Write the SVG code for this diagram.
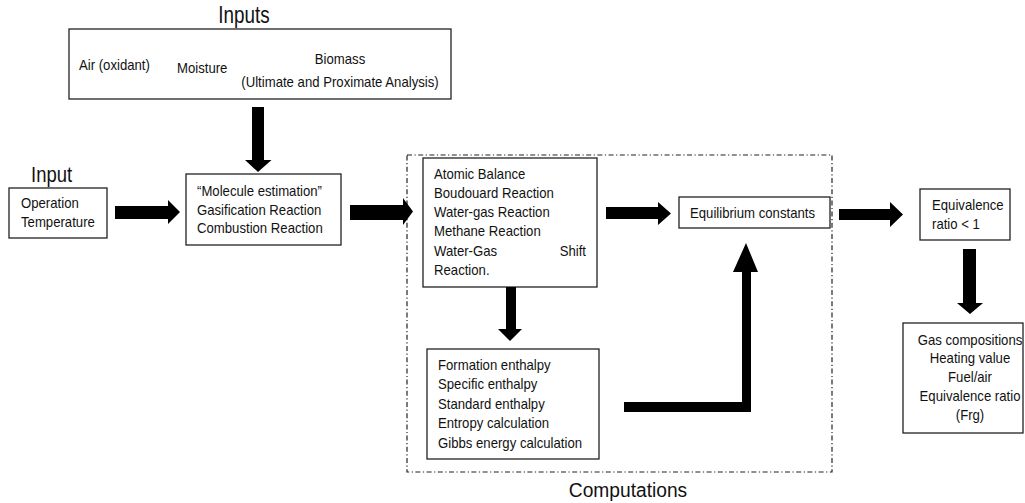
<svg xmlns="http://www.w3.org/2000/svg" width="1025" height="503" viewBox="0 0 1025 503">
<style>
text{font-family:"Liberation Sans",Arial,sans-serif;fill:#111}
.t{font-size:14px}
.box{fill:#fff;stroke:#222;stroke-width:1.3}
.arr{fill:#000}
.c{text-anchor:middle}
.e{text-anchor:end}
</style>
<rect width="1025" height="503" fill="#fff"/>
<g id="computations-frame">
<rect x="407" y="155" width="425" height="317" fill="none" stroke="#222" stroke-width="1.2" stroke-dasharray="5 2.5 1.2 2.5"/>
<text class="c" font-size="20" transform="matrix(.96 0 0 1 628 497)">Computations</text>
</g>
<g id="inputs">
<text class="c" font-size="23" transform="matrix(.82 0 0 1 244 23)">Inputs</text>
<rect class="box" x="69" y="29" width="382" height="70"/>
<text class="t" transform="matrix(.94 0 0 1 79 70)">Air (oxidant)</text>
<text class="t" transform="matrix(.94 0 0 1 177 73)">Moisture</text>
<text class="t c" transform="matrix(.94 0 0 1 340 64)">Biomass</text>
<text class="t c" transform="matrix(.94 0 0 1 340 87)">(Ultimate and Proximate Analysis)</text>
</g>
<g id="operation-temperature">
<text font-size="22" transform="matrix(.84 0 0 1 31 182)">Input</text>
<rect class="box" x="9" y="188" width="98" height="50"/>
<text class="t" transform="matrix(.94 0 0 1 21 208)">Operation</text>
<text class="t" transform="matrix(.94 0 0 1 21 227)">Temperature</text>
</g>
<g id="molecule-estimation">
<rect class="box" x="186" y="174" width="155" height="71"/>
<text class="t" transform="matrix(.94 0 0 1 197 196)">“Molecule estimation”</text>
<text class="t" transform="matrix(.94 0 0 1 197 215)">Gasification Reaction</text>
<text class="t" transform="matrix(.94 0 0 1 197 233)">Combustion Reaction</text>
</g>
<g id="reactions">
<rect class="box" x="423" y="158" width="174" height="129"/>
<text class="t" transform="matrix(.94 0 0 1 434 179)">Atomic Balance</text>
<text class="t" transform="matrix(.94 0 0 1 434 198)">Boudouard Reaction</text>
<text class="t" transform="matrix(.94 0 0 1 434 217)">Water-gas Reaction</text>
<text class="t" transform="matrix(.94 0 0 1 434 236)">Methane Reaction</text>
<text class="t" transform="matrix(.94 0 0 1 434 256)">Water-Gas</text>
<text class="t e" transform="matrix(.94 0 0 1 586 256)">Shift</text>
<text class="t" transform="matrix(.94 0 0 1 434 275)">Reaction.</text>
</g>
<g id="enthalpy">
<rect class="box" x="427" y="349" width="172" height="110"/>
<text class="t" transform="matrix(.94 0 0 1 438 370)">Formation enthalpy</text>
<text class="t" transform="matrix(.94 0 0 1 438 389)">Specific enthalpy</text>
<text class="t" transform="matrix(.94 0 0 1 438 409)">Standard enthalpy</text>
<text class="t" transform="matrix(.94 0 0 1 438 428)">Entropy calculation</text>
<text class="t" transform="matrix(.94 0 0 1 438 448)">Gibbs energy calculation</text>
</g>
<g id="equilibrium-constants">
<rect class="box" x="679" y="197" width="151" height="31"/>
<text class="t" transform="matrix(.94 0 0 1 690 218)">Equilibrium constants</text>
</g>
<g id="equivalence-ratio">
<rect class="box" x="920" y="189" width="90" height="51"/>
<text class="t" transform="matrix(.94 0 0 1 932 210)">Equivalence</text>
<text class="t" transform="matrix(.94 0 0 1 932 229)">ratio &lt; 1</text>
</g>
<g id="outputs">
<rect class="box" x="903" y="323" width="120" height="110"/>
<text class="t c" transform="matrix(.94 0 0 1 970 345)">Gas compositions</text>
<text class="t c" transform="matrix(.94 0 0 1 970 363)">Heating value</text>
<text class="t c" transform="matrix(.94 0 0 1 970 382)">Fuel/air</text>
<text class="t c" transform="matrix(.94 0 0 1 970 401)">Equivalence ratio</text>
<text class="t c" transform="matrix(.94 0 0 1 970 420)">(Frg)</text>
</g>
<g id="connectors" class="arr">
<polygon points="252,107 264,107 264,160 271.5,160 258,172 245,160 252,160"/>
<polygon points="115,206 168,206 168,200 180,212 168,224 168,219 115,219"/>
<polygon points="350,205 403,205 403,198 413,211.5 403,225 403,220 350,220"/>
<polygon points="606,207 658,207 658,202 671,213.5 658,225 658,219 606,219"/>
<polygon points="839,209 890,209 890,202 903,214.5 890,227 890,220 839,220"/>
<polygon points="506,287 516,287 516,329 522,329 510,341 498,329 506,329"/>
<polygon points="624,402 742,402 742,272 733,272 746,243 758,272 751,272 751,412 624,412"/>
<polygon points="963,249 976,249 976,303 983,303 970,314 957,303 963,303"/>
</g>
</svg>
